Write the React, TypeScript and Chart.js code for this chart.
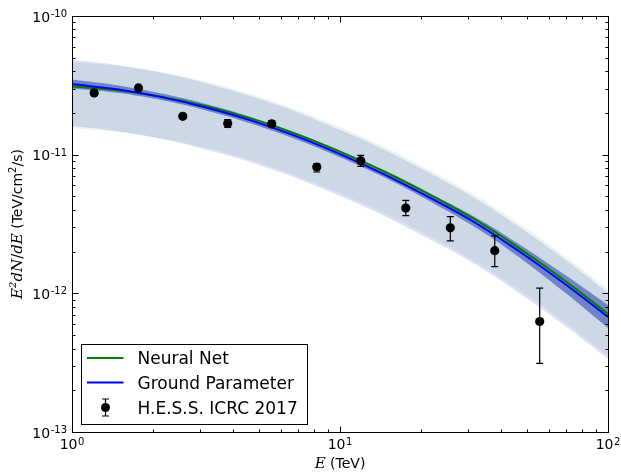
import React, { useEffect, useRef } from 'react';
import { Chart, registerables } from 'chart.js';

Chart.register(...registerables);

// ---- data ----
const energyGrid = [1, 1.468, 2.154, 3.162, 4.642, 6.813, 10, 14.68, 21.54, 31.62, 46.42, 68.13, 100];
const neuralNet = [3.097e-11, 2.918e-11, 2.622e-11, 2.243e-11, 1.826e-11, 1.418e-11, 1.052e-11, 7.53e-12, 5.17e-12, 3.44e-12, 2.13e-12, 1.258e-12, 7.11e-13];
const groundParam = [3.228e-11, 2.958e-11, 2.6e-11, 2.188e-11, 1.766e-11, 1.365e-11, 1.009e-11, 7.19e-12, 4.92e-12, 3.27e-12, 2.02e-12, 1.191e-12, 6.76e-13];
const nnBandHigh = [4.65e-11, 4.38e-11, 3.93e-11, 3.36e-11, 2.74e-11, 2.13e-11, 1.58e-11, 1.13e-11, 7.76e-12, 5.16e-12, 3.2e-12, 1.89e-12, 1.07e-12];
const nnBandLow = [1.55e-11, 1.46e-11, 1.31e-11, 1.12e-11, 9.13e-12, 7.09e-12, 5.26e-12, 3.77e-12, 2.59e-12, 1.72e-12, 1.07e-12, 6.29e-13, 3.56e-13];
const gpBandHigh = [4.84e-11, 4.44e-11, 3.9e-11, 3.28e-11, 2.65e-11, 2.05e-11, 1.51e-11, 1.08e-11, 7.38e-12, 4.91e-12, 3.03e-12, 1.79e-12, 1.01e-12];
const gpBandLow = [1.61e-11, 1.48e-11, 1.3e-11, 1.09e-11, 8.83e-12, 6.83e-12, 5.05e-12, 3.6e-12, 2.46e-12, 1.64e-12, 1.01e-12, 5.96e-13, 3.38e-13];
const spreadHigh = [3.479e-11, 3.162e-11, 2.756e-11, 2.319e-11, 1.872e-11, 1.447e-11, 1.069e-11, 7.68e-12, 5.3e-12, 3.58e-12, 2.27e-12, 1.383e-12, 8.25e-13];
const spreadLow = [2.996e-11, 2.791e-11, 2.474e-11, 2.082e-11, 1.68e-11, 1.299e-11, 9.6e-12, 6.84e-12, 4.64e-12, 3.03e-12, 1.83e-12, 1.034e-12, 5.63e-13];

const hessEnergy = [1.21, 1.77, 2.59, 3.81, 5.56, 8.19, 11.95, 17.6, 25.8, 37.8, 55.6];
const hessFlux = [2.79e-11, 3.03e-11, 1.89e-11, 1.675e-11, 1.67e-11, 8.15e-12, 9.05e-12, 4.12e-12, 2.97e-12, 2.03e-12, 6.26e-13];
const hessHigh = [2.88e-11, 3.12e-11, 1.95e-11, 1.79e-11, 1.75e-11, 8.6e-12, 9.88e-12, 4.68e-12, 3.58e-12, 2.6e-12, 1.09e-12];
const hessLow = [2.7e-11, 2.94e-11, 1.83e-11, 1.57e-11, 1.59e-11, 7.5e-12, 8.23e-12, 3.63e-12, 2.39e-12, 1.56e-12, 3.13e-13];

const xTickValues = [1, 10, 100];
const xTickExponents = ['0', '1', '2'];
const yTickValues = [1e-13, 1e-12, 1e-11, 1e-10];
const yTickExponents = ['-13', '-12', '-11', '-10'];
const legendLabels = ['Neural Net', 'Ground Parameter', 'H.E.S.S. ICRC 2017'];

const GREEN = '#008000';
const BLUE = '#0000ff';
const SANS = '"DejaVu Sans", sans-serif';
const SERIF_IT = 'italic 15px "DejaVu Serif", serif';

const pts = (xs: number[], ys: number[]) => xs.map((x, i) => ({ x, y: ys[i] }));

function minorValues(min: number, max: number) {
  const out: number[] = [];
  for (let d = Math.floor(Math.log10(min)); d <= Math.ceil(Math.log10(max)); d++) {
    for (let m = 2; m <= 9; m++) {
      const v = m * Math.pow(10, d);
      if (v > min && v < max) out.push(v);
    }
  }
  return out;
}

function drawPow(ctx: CanvasRenderingContext2D, exp: string, x: number, y: number, align: 'center' | 'right') {
  ctx.font = `14px ${SANS}`;
  const wb = ctx.measureText('10').width;
  ctx.font = `10px ${SANS}`;
  const we = ctx.measureText(exp).width;
  const total = wb + we + 0.5;
  const start = align === 'center' ? x - total / 2 : x - total;
  ctx.textAlign = 'left';
  ctx.textBaseline = 'alphabetic';
  ctx.font = `14px ${SANS}`;
  ctx.fillText('10', start, y);
  ctx.font = `10px ${SANS}`;
  ctx.fillText(exp, start + wb + 0.5, y - 4.5);
}

type Seg = { t: string; f: string; dy?: number };
function drawSegs(ctx: CanvasRenderingContext2D, segs: Seg[], cx: number, baseline: number) {
  let w = 0;
  for (const s of segs) { ctx.font = s.f; w += ctx.measureText(s.t).width; }
  let x = cx - w / 2;
  ctx.textAlign = 'left';
  ctx.textBaseline = 'alphabetic';
  for (const s of segs) {
    ctx.font = s.f;
    ctx.fillText(s.t, x, baseline + (s.dy || 0));
    x += ctx.measureText(s.t).width;
  }
}

const errorBarPlugin = {
  id: 'errorBars',
  beforeDatasetDraw(chart: any, args: any) {
    if (args.index !== 0) return;
    const { ctx, scales } = chart;
    const xs = scales.x, ys = scales.y;
    ctx.save();
    ctx.strokeStyle = '#000';
    ctx.lineWidth = 1.2;
    hessEnergy.forEach((e, i) => {
      const px = xs.getPixelForValue(e);
      const yHi = ys.getPixelForValue(hessHigh[i]);
      const yLo = ys.getPixelForValue(hessLow[i]);
      ctx.beginPath();
      ctx.moveTo(px, yHi); ctx.lineTo(px, yLo);
      ctx.moveTo(px - 3.5, yHi); ctx.lineTo(px + 3.5, yHi);
      ctx.moveTo(px - 3.5, yLo); ctx.lineTo(px + 3.5, yLo);
      ctx.stroke();
    });
    ctx.restore();
  },
};

const axesPlugin = {
  id: 'mplAxes',
  afterDatasetsDraw(chart: any) {
    const { ctx, chartArea: a, scales } = chart;
    const xs = scales.x, ys = scales.y;
    const L = a.left + 0.5, R = a.right + 0.5, T = a.top + 0.5, B = a.bottom + 0.5;
    ctx.save();
    ctx.strokeStyle = '#000';
    ctx.lineWidth = 1;
    ctx.beginPath();
    xTickValues.forEach((v) => {
      const p = Math.round(xs.getPixelForValue(v)) + 0.5;
      ctx.moveTo(p, B); ctx.lineTo(p, B - 6);
      ctx.moveTo(p, T); ctx.lineTo(p, T + 6);
    });
    minorValues(xs.min, xs.max).forEach((v) => {
      const p = Math.round(xs.getPixelForValue(v)) + 0.5;
      ctx.moveTo(p, B); ctx.lineTo(p, B - 3);
      ctx.moveTo(p, T); ctx.lineTo(p, T + 3);
    });
    yTickValues.forEach((v) => {
      const p = Math.round(ys.getPixelForValue(v)) + 0.5;
      ctx.moveTo(L, p); ctx.lineTo(L + 6, p);
      ctx.moveTo(R, p); ctx.lineTo(R - 6, p);
    });
    minorValues(ys.min, ys.max).forEach((v) => {
      const p = Math.round(ys.getPixelForValue(v)) + 0.5;
      ctx.moveTo(L, p); ctx.lineTo(L + 3, p);
      ctx.moveTo(R, p); ctx.lineTo(R - 3, p);
    });
    ctx.stroke();
    ctx.strokeRect(L, T, R - L, B - T);
    ctx.restore();
  },
  afterDraw(chart: any) {
    const { ctx, chartArea: a, scales } = chart;
    const xs = scales.x, ys = scales.y;
    ctx.save();
    ctx.fillStyle = '#000';
    xTickValues.forEach((v, i) => {
      drawPow(ctx, xTickExponents[i], xs.getPixelForValue(v), a.bottom + 17, 'center');
    });
    yTickValues.forEach((v, i) => {
      drawPow(ctx, yTickExponents[i], a.left - 5, ys.getPixelForValue(v) + 5.5, 'right');
    });
    drawSegs(ctx, [
      { t: 'E', f: SERIF_IT },
      { t: ' (TeV)', f: `14px ${SANS}` },
    ], (a.left + a.right) / 2, a.bottom + 36);
    ctx.save();
    ctx.translate(22, (a.top + a.bottom) / 2);
    ctx.rotate(-Math.PI / 2);
    drawSegs(ctx, [
      { t: 'E', f: SERIF_IT },
      { t: '2', f: 'italic 10px "DejaVu Serif", serif', dy: -6 },
      { t: 'dN', f: SERIF_IT },
      { t: '/', f: '15px "DejaVu Serif", serif' },
      { t: 'dE', f: SERIF_IT },
      { t: ' (TeV/cm', f: `14px ${SANS}` },
      { t: '2', f: `10px ${SANS}`, dy: -6 },
      { t: '/s)', f: `14px ${SANS}` },
    ], 0, 0);
    ctx.restore();

    const lx = a.left + 9.5, ly = a.top + 328.5, lw = 226, lh = 80;
    ctx.fillStyle = '#fff';
    ctx.fillRect(lx, ly, lw, lh);
    ctx.strokeStyle = '#000';
    ctx.lineWidth = 1;
    ctx.strokeRect(lx, ly, lw, lh);
    const rows = [ly + 13.5, ly + 38, ly + 63];
    ctx.lineWidth = 2;
    ctx.strokeStyle = GREEN;
    ctx.beginPath(); ctx.moveTo(lx + 5.5, rows[0]); ctx.lineTo(lx + 42, rows[0]); ctx.stroke();
    ctx.strokeStyle = BLUE;
    ctx.beginPath(); ctx.moveTo(lx + 5.5, rows[1]); ctx.lineTo(lx + 42, rows[1]); ctx.stroke();
    const mx = lx + 24;
    ctx.strokeStyle = '#000';
    ctx.lineWidth = 1.2;
    ctx.beginPath();
    ctx.moveTo(mx, rows[2] - 8.5); ctx.lineTo(mx, rows[2] + 8.5);
    ctx.moveTo(mx - 3.5, rows[2] - 8.5); ctx.lineTo(mx + 3.5, rows[2] - 8.5);
    ctx.moveTo(mx - 3.5, rows[2] + 8.5); ctx.lineTo(mx + 3.5, rows[2] + 8.5);
    ctx.stroke();
    ctx.fillStyle = '#000';
    ctx.beginPath(); ctx.arc(mx, rows[2], 4.5, 0, Math.PI * 2); ctx.fill();
    ctx.font = `17px ${SANS}`;
    ctx.textAlign = 'left';
    ctx.textBaseline = 'alphabetic';
    legendLabels.forEach((lab, i) => ctx.fillText(lab, lx + 56, rows[i] + 6));
    ctx.restore();
  },
};

export default function App() {
  const ref = useRef<HTMLCanvasElement | null>(null);
  useEffect(() => {
    if (!ref.current) return;
    const band = (data: number[], fill: number | false, color: string, order: number) => ({
      data: pts(energyGrid, data),
      borderWidth: 0,
      pointRadius: 0,
      fill,
      backgroundColor: color,
      tension: 0.4,
      order,
    });
    const chart = new Chart(ref.current, {
      type: 'line',
      data: {
        datasets: [
          {
            label: legendLabels[2],
            data: pts(hessEnergy, hessFlux),
            showLine: false,
            pointRadius: 4.6,
            pointBorderWidth: 0,
            pointBackgroundColor: '#000',
            borderColor: '#000',
            order: 0,
          },
          {
            label: legendLabels[1],
            data: pts(energyGrid, groundParam),
            borderColor: BLUE,
            borderWidth: 2,
            pointRadius: 0,
            fill: false,
            tension: 0.4,
            order: 1,
          },
          {
            label: legendLabels[0],
            data: pts(energyGrid, neuralNet),
            borderColor: GREEN,
            borderWidth: 2,
            pointRadius: 0,
            fill: false,
            tension: 0.4,
            order: 2,
          },
          band(spreadHigh, 4, 'rgba(20,50,170,0.5)', 3),
          band(spreadLow, false, 'rgba(0,0,0,0)', 3),
          band(gpBandHigh, 6, 'rgba(86,99,211,0.2)', 4),
          band(gpBandLow, false, 'rgba(0,0,0,0)', 4),
          band(nnBandHigh, 8, 'rgba(120,190,120,0.15)', 5),
          band(nnBandLow, false, 'rgba(0,0,0,0)', 5),
        ] as any,
      },
      options: {
        responsive: false,
        animation: false,
        devicePixelRatio: 1,
        events: [],
        layout: { padding: { left: 72, top: 16, right: 13, bottom: 42 } },
        scales: {
          x: { type: 'logarithmic', min: 1, max: 100, display: false },
          y: { type: 'logarithmic', min: 1e-13, max: 1e-10, display: false },
        },
        plugins: {
          legend: { display: false },
          tooltip: { enabled: false },
        },
      },
      plugins: [errorBarPlugin, axesPlugin],
    });
    return () => chart.destroy();
  }, []);
  return (
    <canvas
      ref={ref}
      width={621}
      height={474}
      style={{ position: 'fixed', left: 0, top: 0, width: 621, height: 474, background: '#fff' }}
    />
  );
}
